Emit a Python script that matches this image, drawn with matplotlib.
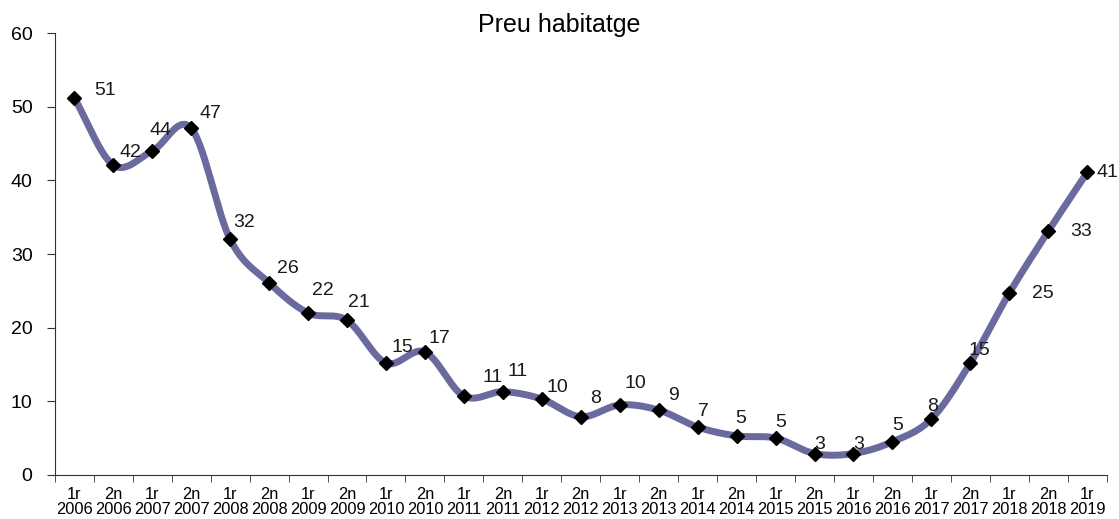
import numpy as np
import matplotlib
matplotlib.use('Agg')
import matplotlib.pyplot as plt

plt.rcParams['font.family'] = ['Liberation Sans', 'DejaVu Sans']

# dades
semestres = ['1r', '2n'] * 13 + ['1r']
anys = [str(2006 + i // 2) for i in range(27)]
valors = [51.2, 42.1, 44.0, 47.1, 32.0, 26.1, 22.0, 21.0, 15.2, 16.7,
          10.7, 11.3, 10.3, 7.9, 9.5, 8.8, 6.5, 5.3, 5.0, 2.9,
          2.9, 4.5, 7.6, 15.2, 24.7, 33.1, 41.1]
etiquetes = ['51', '42', '44', '47', '32', '26', '22', '21', '15', '17',
             '11', '11', '10', '8', '10', '9', '7', '5', '5', '3',
             '3', '5', '8', '15', '25', '33', '41']

x = np.arange(len(valors))
y = np.array(valors)


# corba suavitzada (Catmull-Rom, com la línia suau d'Excel)
def catmull_rom(px, py, n=30):
    px = np.concatenate([[2 * px[0] - px[1]], px, [2 * px[-1] - px[-2]]])
    py = np.concatenate([[2 * py[0] - py[1]], py, [2 * py[-1] - py[-2]]])
    xs, ys = [], []
    t = np.linspace(0, 1, n)
    for i in range(1, len(px) - 2):
        p0, p1, p2, p3 = [np.array([px[j], py[j]]) for j in (i - 1, i, i + 1, i + 2)]
        c1 = p1 + (p2 - p0) / 6
        c2 = p2 - (p3 - p1) / 6
        pts = ((1 - t)[:, None] ** 3 * p1 + 3 * ((1 - t) ** 2 * t)[:, None] * c1
               + 3 * ((1 - t) * t ** 2)[:, None] * c2 + (t ** 3)[:, None] * p2)
        xs.extend(pts[:, 0])
        ys.extend(pts[:, 1])
    return np.array(xs), np.array(ys)


sx, sy = catmull_rom(x.astype(float), y)

fig = plt.figure(figsize=(11.19, 5.19), dpi=100)
ax = fig.add_axes([0.049, 0.085, 0.940, 0.851])

ax.plot(sx, sy, color='#6A6A9E', lw=5, solid_capstyle='round', zorder=2)
ax.plot(x, y, ls='none', marker='D', ms=7, color='black', zorder=3)

# posició de les etiquetes (px respecte al marcador)
offsets = {0: (20, 7), 1: (6, 12), 2: (-3, 20), 3: (8, 15), 4: (3, 17),
           5: (8, 14), 6: (4, 22), 7: (1, 18), 8: (6, 15), 9: (4, 13),
           10: (19, 19), 11: (5, 20), 12: (5, 12), 13: (9, 18), 14: (5, 21),
           15: (9, 15), 16: (0, 16), 17: (-1, 17), 18: (0, 16), 19: (0, 9),
           20: (0, 9), 21: (0, 16), 22: (-4, 12), 23: (-2, 12), 24: (23, 0),
           25: (22, 0), 26: (9, 0)}
for i, (xi, yi, lab) in enumerate(zip(x, y, etiquetes)):
    dx, dy = offsets.get(i, (3, 16))
    ax.annotate(lab, (xi, yi), xytext=(dx, dy), textcoords='offset pixels',
                ha='left', va='center', fontsize=14, color='#1a1a1a')

ax.set_xlim(-0.5, len(valors) - 0.5)
ax.set_ylim(0, 60)
ax.set_yticks(range(0, 61, 10))
ax.set_xticks(x)
ax.set_xticklabels([f'{s}\n{a}' for s, a in zip(semestres, anys)],
                   fontsize=11.8, linespacing=0.95)
ax.set_xticks(np.arange(-0.5, len(valors), 1), minor=True)
ax.tick_params(axis='x', which='major', length=0, pad=9)
ax.tick_params(axis='x', which='minor', length=5, direction='out', color='#333333')
ax.tick_params(axis='y', length=6, direction='out', labelsize=14, pad=10, color='#333333')

for side in ['top', 'right']:
    ax.spines[side].set_visible(False)
for side in ['left', 'bottom']:
    ax.spines[side].set_color('#333333')

fig.text(0.50, 0.952, 'Preu habitatge', ha='center', va='center', fontsize=18)

fig.savefig('out.png', dpi=100)
